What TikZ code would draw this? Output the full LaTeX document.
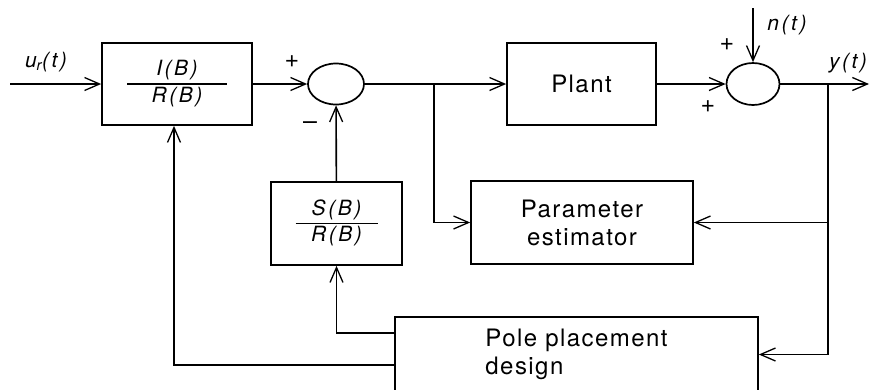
\documentclass[tikz,border=0pt]{standalone}
\usepackage{fontspec}
\setmainfont{TeX Gyre Heros}
\newfontfamily\blockfont[LetterSpace=6]{TeX Gyre Heros}
\newfontfamily\labelfont[LetterSpace=12]{TeX Gyre Heros}
\usetikzlibrary{shapes, arrows.meta, positioning, calc}

\newcommand{\blkfrac}[3]{%
  \setlength{\arrayrulewidth}{1.5pt}%
  \begin{tabular}{@{}c@{}}\makebox[#3]{\itshape #1}\\\hline\itshape #2\end{tabular}}

\begin{document}
\begin{tikzpicture}[x=1pt, y=-1pt, line width=1.6pt,
  blockbox/.style={draw, line width=1.7pt, font=\blockfont\fontsize{24}{28}\selectfont},
  fracbox/.style={draw, line width=1.7pt, font=\labelfont\fontsize{21}{25}\selectfont},
  sumjunc/.style={draw, ellipse, line width=1.7pt, inner sep=0pt},
  sig/.style={-{Straight Barb[length=15pt, width=13pt, line width=1.3pt]}},
  lbl/.style={font=\labelfont\fontsize{21}{24}\selectfont\itshape},
  sgn/.style={font=\fontsize{25}{28}\selectfont}]
  \useasboundingbox (0,0) rectangle (870,389);

  \node[fracbox, minimum width=150pt, minimum height=82pt] (irb) at (177,84) {\blkfrac{I(B)}{R(B)}{100pt}};
  \node[sumjunc, minimum width=56pt, minimum height=41pt] (sum1) at (336,84) {};
  \node[blockbox, minimum width=149pt, minimum height=82pt] (plant) at (581.5,84) {Plant};
  \node[sumjunc, minimum width=53pt, minimum height=42pt] (sum2) at (753,84) {};
  \node[fracbox, minimum width=131pt, minimum height=83pt] (srb) at (336.5,223.5) {\blkfrac{S(B)}{R(B)}{82pt}};
  \node[blockbox, minimum width=222pt, minimum height=83pt, align=center] (param) at (582,222.5) {Parameter\\estimator};
  \node[blockbox, minimum width=363pt, minimum height=75pt, align=left] (pole) at (576.5,354.5) {Pole placement\\design};

  \coordinate (uin) at (10,84);
  \coordinate (br1) at (434,84);
  \coordinate (br2) at (828,84);
  \coordinate (yout) at (869,84);
  \coordinate (nin) at (753,8);

  \draw[sig] (uin) -- (irb);
  \draw[sig] (irb) -- (sum1);
  \draw[sig] (sum1) -- (plant);
  \draw[sig] (plant) -- (sum2);
  \draw[sig] (sum2) -- (yout);
  \draw[sig] (nin) -- (sum2);
  \draw[sig] (br1) |- (param);
  \draw[sig] (br2) |- (param);
  \draw[sig] (br2) |- (pole);
  \draw[sig] (srb) -- (sum1);
  \draw[sig] (pole.west |- 0,333) -| (srb);
  \draw[sig] (pole.west |- 0,365) -| ([xshift=-3pt]irb.south);

  \node[lbl] (ulab) at (46,62) {u\textsubscript{r}(t)};
  \node[sgn] (p1) at (292,62) {+};
  \node[sgn] (m1) at (310,126) {\textendash};
  \node[sgn] (p2) at (727,45) {+};
  \node[sgn] (p3) at (708,107) {+};
  \node[lbl] (nlab) at (787,25) {n(t)};
  \node[lbl] (ylab) at (848,63) {y(t)};
\end{tikzpicture}
\end{document}
